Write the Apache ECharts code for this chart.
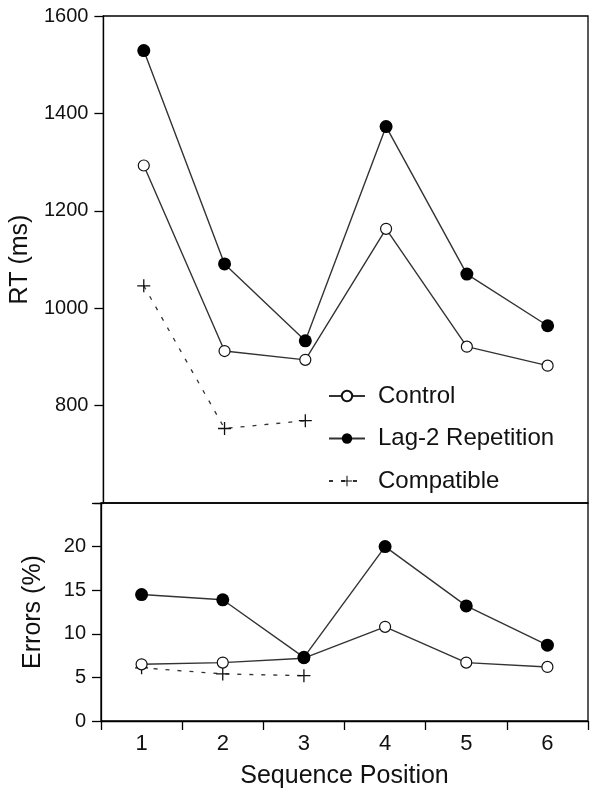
<!DOCTYPE html>
<html>
<head>
<meta charset="utf-8">
<script src="https://cdn.jsdelivr.net/npm/echarts@6/dist/echarts.min.js"></script>
<style>
  html, body { margin: 0; padding: 0; background: #fff; }
  #chart { width: 602px; height: 796px; }
</style>
</head>
<body>
<div id="chart"></div>
<script>
const positions = ["1", "2", "3", "4", "5", "6"];

// RT (ms)
const rtControl = [1293, 912, 894, 1163, 921, 882];
const rtLag2 = [1529, 1091, 933, 1373, 1070, 964];
const rtCompatible = [1046, 753, 769];

// Errors (%)
const errControl = [6.5, 6.7, 7.2, 10.8, 6.7, 6.2];
const errLag2 = [14.5, 13.9, 7.3, 20.0, 13.2, 8.7];
const errCompatible = [6.1, 5.4, 5.2];

const font = "Liberation Sans";
const ink = "#111";
const lineColor = "#333";
const plusPath = "path://M-0.1,-1H0.1V-0.1H1V0.1H0.1V1H-0.1V0.1H-1V-0.1H-0.1Z";

const controlStyle = {
  type: "line",
  symbol: "circle",
  symbolSize: 11,
  itemStyle: { color: "#fff", borderColor: "#111", borderWidth: 1.2 },
  lineStyle: { color: lineColor, width: 1.4 },
};
const lagStyle = {
  type: "line",
  symbol: "circle",
  symbolSize: 13,
  itemStyle: { color: "#000", borderColor: "#000", borderWidth: 0 },
  lineStyle: { color: lineColor, width: 1.4 },
};
const compatStyle = {
  type: "line",
  symbol: plusPath,
  symbolSize: 13,
  itemStyle: { color: "#111", borderWidth: 0 },
  lineStyle: { color: lineColor, width: 1.3, type: [4, 8] },
};

const yCommon = {
  type: "value",
  axisLine: { show: true, lineStyle: { color: "#000", width: 1.3 } },
  axisTick: { show: true, inside: false, length: 9, lineStyle: { color: "#000", width: 1.3 } },
  splitLine: { show: false },
  nameLocation: "middle",
  nameTextStyle: { fontFamily: font, fontSize: 25, color: ink },
};

const option = {
  animation: false,
  legend: {
    orient: "vertical",
    left: 323,
    top: 377,
    itemWidth: 36,
    itemHeight: 13,
    itemGap: 14.5,
    textStyle: { fontFamily: font, fontSize: 24, color: ink, lineHeight: 28, padding: [0, 0, 0, 8] },
    data: ["Control", "Lag-2 Repetition", "Compatible"],
  },
  grid: [
    { left: 101, top: 16, width: 487, height: 487, show: true, borderColor: "#000", borderWidth: 1.3 },
    { left: 101, top: 503, width: 487, height: 218, show: true, borderColor: "#000", borderWidth: 1.3 },
  ],
  xAxis: [
    {
      gridIndex: 0,
      type: "category",
      data: positions,
      boundaryGap: true,
      axisLine: { show: false },
      axisTick: { show: false },
      axisLabel: { show: false },
    },
    {
      gridIndex: 1,
      type: "category",
      data: positions,
      boundaryGap: true,
      axisLine: { show: true, lineStyle: { color: "#000", width: 1.3 } },
      axisTick: { show: true, inside: false, length: 9, lineStyle: { color: "#000", width: 1.3 } },
      axisLabel: { fontFamily: font, fontSize: 22, color: ink, margin: 12 },
      name: "Sequence Position",
      nameLocation: "middle",
      nameGap: 43,
      nameTextStyle: { fontFamily: font, fontSize: 25, color: ink },
    },
  ],
  yAxis: [
    Object.assign({}, yCommon, {
      gridIndex: 0,
      min: 600,
      max: 1600,
      interval: 200,
      name: "RT (ms)",
      nameGap: 55,
      axisLabel: {
        fontFamily: font, fontSize: 20, color: ink, margin: 15,
        formatter: (v) => (v === 600 ? "" : String(v)),
      },
    }),
    Object.assign({}, yCommon, {
      gridIndex: 1,
      min: 0,
      max: 25,
      interval: 5,
      name: "Errors (%)",
      nameGap: 55,
      axisLabel: {
        fontFamily: font, fontSize: 20, color: ink, margin: 15,
        formatter: (v) => (v === 25 ? "" : String(v)),
      },
    }),
  ],
  series: [
    Object.assign({}, compatStyle, { name: "Compatible", xAxisIndex: 0, yAxisIndex: 0, data: rtCompatible }),
    Object.assign({}, controlStyle, { name: "Control", xAxisIndex: 0, yAxisIndex: 0, data: rtControl }),
    Object.assign({}, lagStyle, { name: "Lag-2 Repetition", xAxisIndex: 0, yAxisIndex: 0, data: rtLag2 }),
    Object.assign({}, compatStyle, { name: "Compatible", xAxisIndex: 1, yAxisIndex: 1, data: errCompatible }),
    Object.assign({}, controlStyle, { name: "Control", xAxisIndex: 1, yAxisIndex: 1, data: errControl }),
    Object.assign({}, lagStyle, { name: "Lag-2 Repetition", xAxisIndex: 1, yAxisIndex: 1, data: errLag2 }),
  ],
};

const chart = echarts.init(document.getElementById("chart"));
chart.setOption(option);
</script>
</body>
</html>
